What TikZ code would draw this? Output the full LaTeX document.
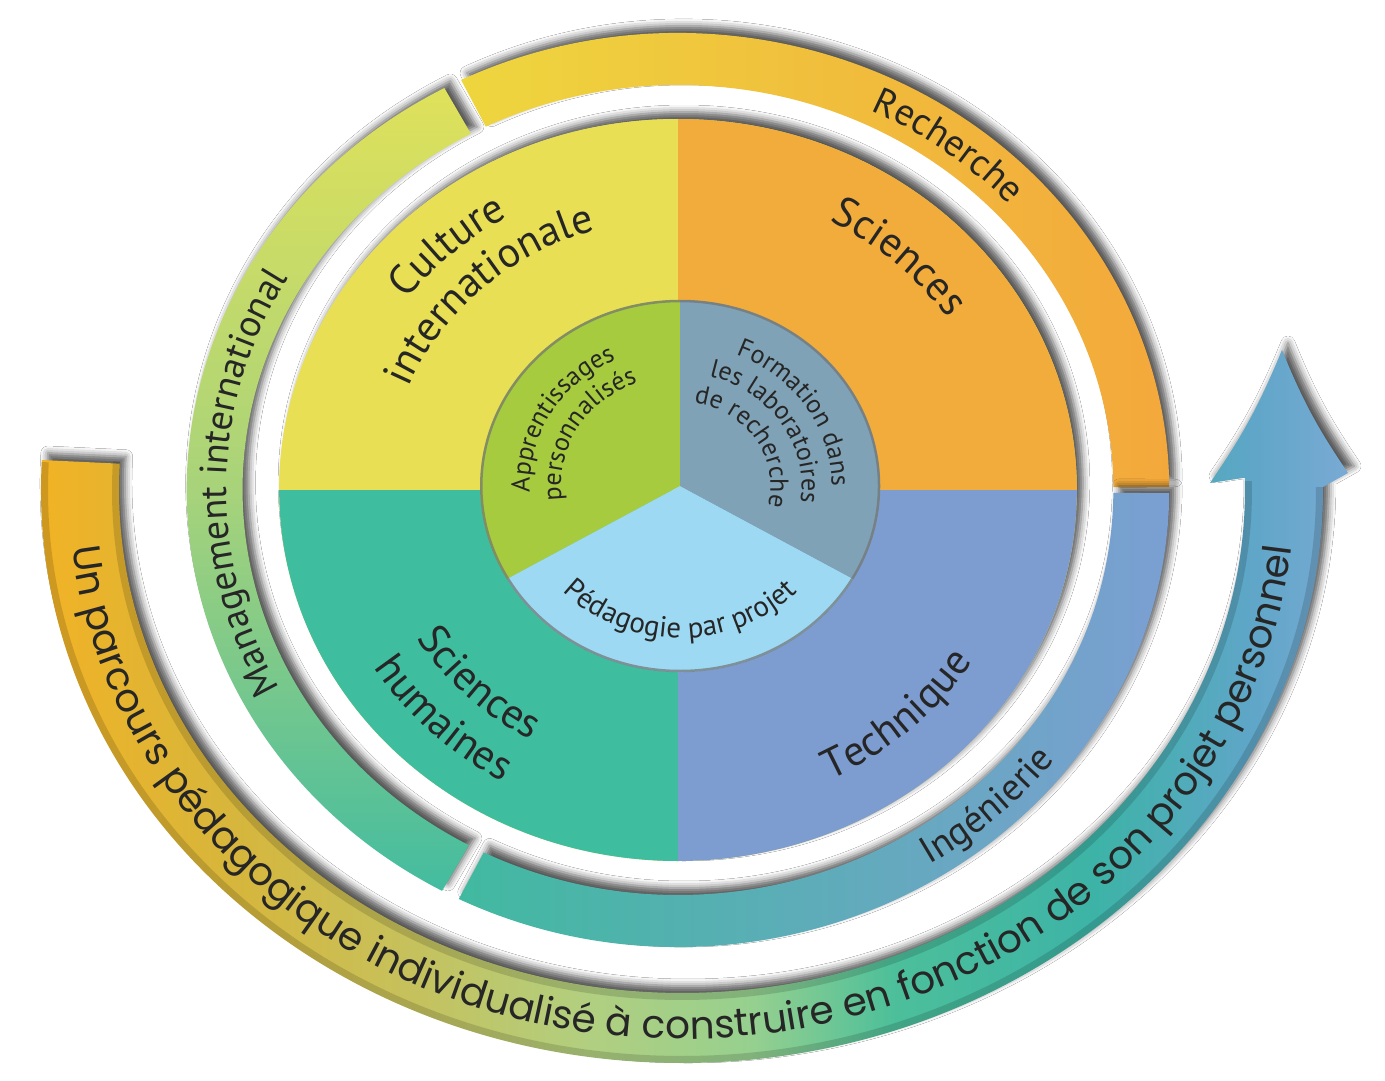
\documentclass[tikz,border=0pt]{standalone}
\usepackage{fontspec}
\usepackage{tikz}
\usetikzlibrary{decorations.text, shadows.blur}

\newfontfamily\labfont{PT Sans}
\newfontfamily\parcfont{Poppins}
\newcommand{\fQuart}{\labfont\fontsize{42}{46}\selectfont}
\newcommand{\fRing}{\labfont\fontsize{38}{40}\selectfont}
\newcommand{\fCoeur}{\labfont\fontsize{26}{28}\selectfont}
\newcommand{\fPeda}{\labfont\fontsize{29}{31}\selectfont}
\newcommand{\fParc}{\parcfont\fontsize{39}{42}\selectfont}

\definecolor{culture}{HTML}{E8DF55}
\definecolor{sciences}{HTML}{F2AC3B}
\definecolor{humaines}{HTML}{3FBE9F}
\definecolor{technique}{HTML}{7D9DD1}
\definecolor{apprent}{HTML}{A6CB3F}
\definecolor{formation}{HTML}{7FA2B6}
\definecolor{pedago}{HTML}{9DD9F2}
\definecolor{rechA}{HTML}{EED63E}
\definecolor{rechB}{HTML}{F3A83B}
\definecolor{mgmtA}{HTML}{DFE15A}
\definecolor{mgmtB}{HTML}{A8D37A}
\definecolor{mgmtC}{HTML}{43BCA0}
\definecolor{ingA}{HTML}{41B9A0}
\definecolor{ingB}{HTML}{7B9FD2}
\definecolor{parc1}{HTML}{F4B223}
\definecolor{parc2}{HTML}{D6B63C}
\definecolor{parc3}{HTML}{C6C15C}
\definecolor{parc4}{HTML}{B1CF80}
\definecolor{parc5}{HTML}{96D08F}
\definecolor{parc6}{HTML}{4CBF9A}
\definecolor{parc7}{HTML}{3DB3A7}
\definecolor{parc8}{HTML}{5EA6C7}
\definecolor{parc9}{HTML}{7AAAD4}
\pgfdeclarehorizontalshading{parcours}{100bp}{color(0bp)=(parc1); color(25bp)=(parc1); color(33bp)=(parc2); color(39.5bp)=(parc3); color(46.4bp)=(parc4); color(52.5bp)=(parc5); color(57.9bp)=(parc6); color(65.5bp)=(parc7); color(71.2bp)=(parc8); color(75bp)=(parc9); color(100bp)=(parc9)}

\begin{document}
\begin{tikzpicture}[x=1pt, y=1pt,
	relief/.style={blur shadow={shadow xshift=6pt, shadow yshift=7pt, shadow blur radius=7pt, shadow opacity=65}},
	lab/.style={decorate, decoration={text along path, text align=center, text color=black!85, text={#1}}},
	tube/.style={line width=7pt, black, opacity=0.14}]

	\fill[white] (-678,-590) rectangle (707,490);
	\useasboundingbox (-678,-590) rectangle (707,490);

	\path[relief, shading=parcours] ({4+641*cos(177)},{573*sin(177)})
		arc[x radius=641, y radius=573, start angle=177, end angle=360.3]
		-- (670,17) to[bend left=6] (604,140) to[bend left=6] (532,7)
		-- ({4+563*cos(361.4)},{503*sin(361.4)})
		arc[x radius=563, y radius=503, start angle=361.4, end angle=177] -- cycle;
	\draw[tube] ({4+637.5*cos(177.2)},{569.5*sin(177.2)}) arc[x radius=637.5, y radius=569.5, start angle=177.2, end angle=360.3];
	\draw[tube] ({4+566.5*cos(176.8)},{506.5*sin(176.8)}) arc[x radius=566.5, y radius=506.5, start angle=176.8, end angle=361];
	\path[lab={|\fParc|Un parcours pédagogique individualisé à construire en fonction de son projet personnel}]
		({4+613*cos(174)},{549*sin(174)}) arc[x radius=613, y radius=549, start angle=174, end angle=366];

	\begin{scope}[xscale=1.075]
		\path[relief, left color=rechA, right color=rechB] (116.2:457) arc[start angle=116.2, end angle=0.4, radius=457]
			-- (0.4:405) arc[start angle=0.4, end angle=116.2, radius=405] -- cycle;
		\path[relief, top color=mgmtA, bottom color=mgmtC, middle color=mgmtB] (118.4:457) arc[start angle=118.4, end angle=241.3, radius=457]
			-- (241.3:405) arc[start angle=241.3, end angle=118.4, radius=405] -- cycle;
		\path[relief, left color=ingA, right color=ingB] (243.5:457) arc[start angle=243.5, end angle=359.6, radius=457]
			-- (359.6:405) arc[start angle=359.6, end angle=243.5, radius=405] -- cycle;

		\path[relief, fill=culture] (0,0) circle[radius=371];
		\fill[sciences] (0,0) -- (0:371) arc[start angle=0, end angle=90, radius=371] -- cycle;
		\fill[culture] (0,0) -- (90:371) arc[start angle=90, end angle=180, radius=371] -- cycle;
		\fill[humaines] (0,0) -- (180:371) arc[start angle=180, end angle=270, radius=371] -- cycle;
		\fill[technique] (0,0) -- (270:371) arc[start angle=270, end angle=360, radius=371] -- cycle;

		\path[lab={|\fRing|Recherche}] (93:420) arc[start angle=93, end angle=13, radius=420];
		\path[lab={|\fRing|Management international}] (239:420) arc[start angle=239, end angle=119, radius=420];
		\path[lab={|\fRing|Ingénierie}] (-87:442) arc[start angle=-87, end angle=-7, radius=442];

		\path[lab={|\fQuart|Sciences}] (87.6:304) arc[start angle=87.6, end angle=7.6, radius=304];
		\path[lab={|\fQuart|Culture}] (182.6:316) arc[start angle=182.6, end angle=82.6, radius=316];
		\path[lab={|\fQuart|internationale}] (183:271) arc[start angle=183, end angle=83, radius=271];
		\path[lab={|\fQuart|Sciences}] (165:285) arc[start angle=165, end angle=285, radius=285];
		\path[lab={|\fQuart|humaines}] (165:334) arc[start angle=165, end angle=285, radius=334];
		\path[lab={|\fQuart|Technique}] (-106.6:323) arc[start angle=-106.6, end angle=13.4, radius=323];

		\begin{scope}[shift={(2,4)}]
			\fill[apprent] (0,0) -- (90:186) arc[start angle=90, end angle=210, radius=186] -- cycle;
			\fill[pedago] (0,0) -- (210:186) arc[start angle=210, end angle=330, radius=186] -- cycle;
			\fill[formation] (0,0) -- (-30:186) arc[start angle=-30, end angle=90, radius=186] -- cycle;
			\draw[black!55, line width=2.5pt, opacity=0.7] (0,0) circle[radius=185];

			\path[lab={|\fCoeur|Apprentissages}] (225:140) arc[start angle=225, end angle=75, radius=140];
			\path[lab={|\fCoeur|personnalisés}] (225:111) arc[start angle=225, end angle=75, radius=111];
			\path[lab={|\fCoeur|Formation dans}] (108:141) arc[start angle=108, end angle=-42, radius=141];
			\path[lab={|\fCoeur|les laboratoires}] (108:113) arc[start angle=108, end angle=-42, radius=113];
			\path[lab={|\fCoeur|de recherche}] (108:84) arc[start angle=108, end angle=-42, radius=84];
			\path[lab={|\fPeda|Pédagogie par projet}] (195:152) arc[start angle=195, end angle=345, radius=152];
		\end{scope}
	\end{scope}

\end{tikzpicture}
\end{document}
